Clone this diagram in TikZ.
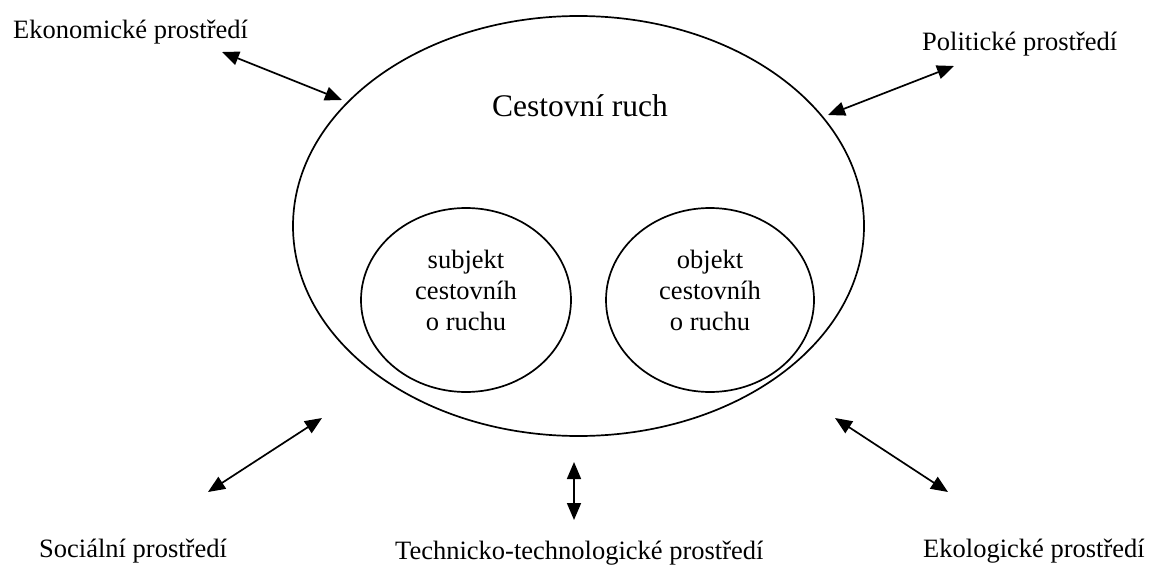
\documentclass[tikz,border=0pt]{standalone}
\usepackage{fontspec}
\setmainfont{Liberation Serif}
\usetikzlibrary{arrows.meta,shapes.geometric}
\tikzset{
  lbl/.style={inner sep=0pt, anchor=base west, font=\fontsize{26.5}{31}\selectfont},
  ring/.style={ellipse, draw, line width=1.7pt, inner sep=0pt},
  circtext/.style={inner sep=0pt, anchor=north, align=center, font=\fontsize{26.5}{31}\selectfont},
  link/.style={line width=1.7pt, {Triangle[length=17pt,width=14pt]}-{Triangle[length=17pt,width=14pt]}}
}
\begin{document}
\begin{tikzpicture}[x=1pt,y=-1pt]
\useasboundingbox (0,0) rectangle (1155,567);
% main ellipse and inner circles
\node[ring, minimum width=571pt, minimum height=420pt] (big) at (578.5,226) {};
\node[ring, minimum width=210pt, minimum height=184pt] (subj) at (466,300) {};
\node[ring, minimum width=208pt, minimum height=184pt] (obj) at (710,300) {};
\node[inner sep=0pt, anchor=base, font=\fontsize{31.5}{36}\selectfont] (title) at (580,117) {Cestovní ruch};
\node[circtext] (subjt) at (466,250) {subjekt\\cestovníh\\o ruchu};
\node[circtext] (objt) at (710,250) {objekt\\cestovníh\\o ruchu};
% environment labels
\node[lbl] (eko) at (13,39) {Ekonomické prostředí};
\node[lbl] (pol) at (922,51) {Politické prostředí};
\node[lbl] (soc) at (39,557) {Sociální prostředí};
\node[lbl] (tech) at (395,559) {Technicko-technologické prostředí};
\node[lbl] (ekol) at (923,557) {Ekologické prostředí};
% arrow end points
\coordinate (a1) at (222,52);  \coordinate (b1) at (342,100);
\coordinate (a2) at (954,66);  \coordinate (b2) at (828,115);
\coordinate (a3) at (208,492); \coordinate (b3) at (322,418);
\coordinate (a4) at (574,520); \coordinate (b4) at (574,462);
\coordinate (a5) at (948,492); \coordinate (b5) at (835,418);
\draw[link] (a1) -- (b1);
\draw[link] (a2) -- (b2);
\draw[link] (a3) -- (b3);
\draw[link] (a4) -- (b4);
\draw[link] (a5) -- (b5);
\end{tikzpicture}
\end{document}
